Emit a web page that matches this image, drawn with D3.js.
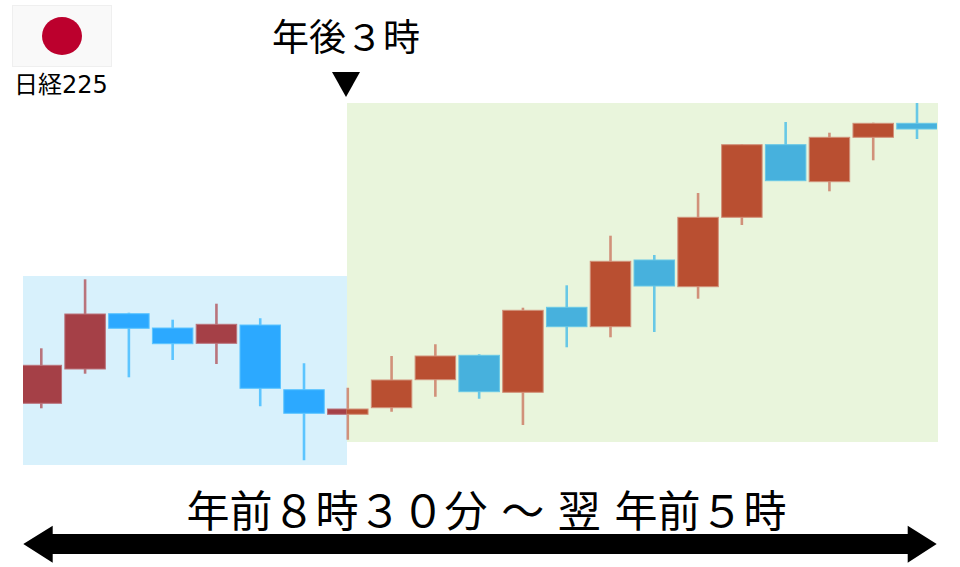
<!DOCTYPE html>
<html>
<head>
<meta charset="utf-8">
<script src="https://cdn.jsdelivr.net/npm/d3@7"></script>
<style>
    body { margin: 0; background: #fff; }
    svg { display: block; }
    text { font-family: "Noto Sans CJK JP", sans-serif; fill: #000; white-space: pre; }
</style>
</head>
<body>
<div id="chart"></div>
<script>
// candles, price units are arbitrary (no axis in the picture)
const sessions = d3.range(21);
const opens = [163.7, 198, 253.3, 239, 223.7, 242, 177.3, 152.7, 159.3, 187.3, 211.7, 174.7, 259.7, 240.3, 307, 280.3, 349.7, 422.3, 385.3, 429.7, 443.7];
const closes = [201.7, 253, 238.7, 223.3, 242.7, 178.7, 153.7, 158, 187, 211, 175.3, 256.7, 240.3, 305.7, 281, 349.7, 422.3, 386.3, 429.7, 443.7, 438];
const highs = [218.7, 287.7, 254.3, 247.3, 263.3, 248.7, 203.7, 179.3, 211, 222.7, 212.7, 259.3, 281.7, 331.3, 312, 374, 422.7, 445, 434.3, 444.3, 464];
const lows = [158.7, 193.3, 189.7, 207, 203, 160.7, 106.7, 127.3, 155.3, 170.3, 168.3, 142, 219.7, 229.7, 235, 268.3, 342, 386.3, 375.7, 406.7, 428];

const flagLabel = "日経225";
const closeLabel = "年後３時";
const rangeLabel = "年前８時３０分 ～ 翌 年前５時";

const width = 960;
const height = 567;

const x = d3.scaleLinear().domain([0, 20]).range([41.3, 917]);
const y = d3.scaleLinear().domain([0, 567]).range([567, 0]);
const bodyWidth = 40.5;

const svg = d3.select("#chart").append("svg")
    .attr("width", width)
    .attr("height", height);

// session backgrounds
const zones = [
    { id: "zoneDay", x0: 23, x1: 347, y0: 276, y1: 465, fill: "#d8f1fc", clipX0: 23, clipX1: 346.6,
      up: "#a54047", upEdge: "#b9747c", down: "#2ca9ff", downEdge: "#5cc5ff" },
    { id: "zoneNight", x0: 347, x1: 938, y0: 103, y1: 442, fill: "#e9f5dc", clipX0: 346.6, clipX1: 937,
      up: "#b94f31", upEdge: "#d1917a", down: "#47b1dd", downEdge: "#68c8e6" }
];

svg.selectAll("rect.zone")
    .data(zones)
    .enter()
    .append("rect")
    .attr("class", "zone")
    .attr("x", d => d.x0)
    .attr("y", d => d.y0)
    .attr("width", d => d.x1 - d.x0)
    .attr("height", d => d.y1 - d.y0)
    .attr("fill", d => d.fill);

const defs = svg.append("defs");

// same candles drawn twice, each copy clipped to its own session colours
zones.forEach(zone => {
    defs.append("clipPath")
        .attr("id", zone.id)
        .append("rect")
        .attr("x", zone.clipX0)
        .attr("y", 0)
        .attr("width", zone.clipX1 - zone.clipX0)
        .attr("height", height);

    const g = svg.append("g").attr("clip-path", "url(#" + zone.id + ")");
    const isUp = i => closes[i] >= opens[i];

    g.selectAll("line")
        .data(sessions)
        .enter()
        .append("line")
        .attr("x1", i => x(i))
        .attr("x2", i => x(i))
        .attr("y1", i => y(highs[i]))
        .attr("y2", i => y(lows[i]))
        .attr("stroke", i => isUp(i) ? zone.upEdge : zone.downEdge)
        .attr("stroke-width", 2.6);

    g.selectAll("rect")
        .data(sessions)
        .enter()
        .append("rect")
        .attr("x", i => x(i) - bodyWidth / 2)
        .attr("y", i => y(Math.max(opens[i], closes[i])))
        .attr("width", bodyWidth)
        .attr("height", i => Math.abs(y(opens[i]) - y(closes[i])))
        .attr("fill", i => isUp(i) ? zone.up : zone.down)
        .attr("stroke", i => isUp(i) ? zone.upEdge : zone.downEdge)
        .attr("stroke-width", 1);
});

// flag
svg.append("rect")
    .attr("x", 12.5)
    .attr("y", 5.5)
    .attr("width", 99)
    .attr("height", 61)
    .attr("fill", "#f9f9f9")
    .attr("stroke", "#efefef");

svg.append("ellipse")
    .attr("cx", 62)
    .attr("cy", 36)
    .attr("rx", 20)
    .attr("ry", 19)
    .attr("fill", "#bc002d");

svg.append("text")
    .attr("x", 14)
    .attr("y", 93)
    .style("font-family", '"DejaVu Sans", "Noto Sans CJK JP", sans-serif')
    .style("font-size", "24px")
    .text(flagLabel);

svg.append("text")
    .attr("x", 346)
    .attr("y", 51)
    .attr("text-anchor", "middle")
    .style("font-size", "37px")
    .text(closeLabel);

svg.append("path")
    .attr("d", "M332,72L360,72L346,97Z")
    .attr("fill", "#000");

svg.append("text")
    .attr("x", 486.5)
    .attr("y", 527)
    .attr("text-anchor", "middle")
    .style("font-size", "43px")
    .style("word-spacing", "4px")
    .text(rangeLabel);

// double headed arrow
const arrow = d3.path();
arrow.moveTo(23.3, 544);
arrow.lineTo(52.7, 525.7);
arrow.lineTo(52.7, 534);
arrow.lineTo(907.7, 534);
arrow.lineTo(907.7, 525.7);
arrow.lineTo(936.7, 544);
arrow.lineTo(907.7, 562.7);
arrow.lineTo(907.7, 554);
arrow.lineTo(52.7, 554);
arrow.lineTo(52.7, 562.7);
arrow.closePath();

svg.append("path")
    .attr("d", arrow.toString())
    .attr("fill", "#000");
</script>
</body>
</html>
